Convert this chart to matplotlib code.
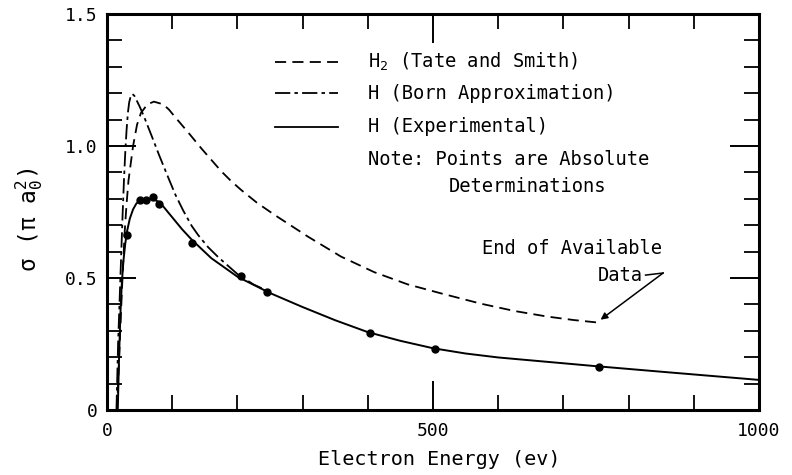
import matplotlib
matplotlib.use("Agg")
import matplotlib.pyplot as plt
from matplotlib.ticker import MultipleLocator, FixedLocator, FixedFormatter

# ---------------- data ----------------
# H2 (Tate and Smith) - dashed
h2_energy = [15.4, 19, 23, 27, 30, 33, 40, 46, 52, 62, 72, 86, 95, 104, 125, 145,
             175, 190, 206, 230, 257, 308, 359, 410, 461, 512, 573, 625, 675, 715, 750]
h2_sigma = [0.0, 0.22, 0.46, 0.67, 0.78, 0.87, 1.0, 1.08, 1.125, 1.158, 1.168,
            1.158, 1.138, 1.111, 1.05, 0.99, 0.905, 0.868, 0.833, 0.785, 0.739,
            0.657, 0.581, 0.522, 0.476, 0.442, 0.403, 0.375, 0.354, 0.341, 0.332]

# H (Born Approximation) - dash-dot
born_energy = [14.5, 17, 20.4, 24, 26, 28, 30, 32, 34, 36.5, 39, 42, 44, 50, 57,
               69, 80, 94, 105, 117, 130, 140, 155, 171, 200, 225, 250]
born_sigma = [0.0, 0.25, 0.49, 0.745, 0.87, 0.975, 1.06, 1.125, 1.165, 1.19,
              1.197, 1.19, 1.18, 1.15, 1.11, 1.035, 0.965, 0.88, 0.815, 0.755,
              0.697, 0.662, 0.617, 0.578, 0.515, 0.475, 0.447]

# H (Experimental) - solid curve
exp_energy = [16.5, 18.5, 20.5, 22.5, 25, 28, 31, 35, 40, 45, 51, 60, 70, 78, 85,
              100, 115, 130, 160, 200, 250, 300, 350, 400, 450, 500, 550, 600,
              700, 750, 850, 1000]
exp_sigma = [0.0, 0.2, 0.36, 0.47, 0.56, 0.63, 0.68, 0.725, 0.76, 0.782, 0.795,
             0.8, 0.8, 0.79, 0.775, 0.73, 0.685, 0.645, 0.575, 0.505, 0.443, 0.39,
             0.34, 0.295, 0.262, 0.234, 0.214, 0.199, 0.177, 0.166, 0.145, 0.114]

# absolute determinations (points)
pts_energy = [30, 50, 60, 70, 80, 130, 205, 245, 403, 503, 754]
pts_sigma = [0.663, 0.795, 0.795, 0.808, 0.780, 0.634, 0.508, 0.448, 0.29, 0.231, 0.162]

legend_labels = ["H$_2$ (Tate and Smith)", "H (Born Approximation)", "H (Experimental)"]
note_lines = ["Note: Points are Absolute", "Determinations"]
x_ticks = [0, 500, 1000]
x_ticklabels = ["0", "500", "1000"]
y_ticks = [0, 0.5, 1.0, 1.5]
y_ticklabels = ["0", "0.5", "1.0", "1.5"]

# ---------------- style ----------------
plt.rcParams['font.family'] = ['DejaVu Sans Mono', 'DejaVu Sans']
plt.rcParams['mathtext.default'] = 'regular'
plt.rcParams['lines.scale_dashes'] = False

W, H = 792, 475
fig = plt.figure(figsize=(W / 100, H / 100), dpi=100)
ax = fig.add_axes([107 / W, 65 / H, 652 / W, 396 / H])

dash_h2 = (8, 4.5)
dash_born = (11, 3, 2.5, 3)

ax.plot(h2_energy, h2_sigma, color='black', lw=1.3, dashes=dash_h2)
ax.plot(born_energy, born_sigma, color='black', lw=1.3, dashes=dash_born)
ax.plot(exp_energy, exp_sigma, color='black', lw=1.4, solid_joinstyle='round')
ax.plot(pts_energy, pts_sigma, 'o', color='black', ms=5)

ax.set_xlim(0, 1000)
ax.set_ylim(0, 1.5)

ax.xaxis.set_major_locator(FixedLocator(x_ticks))
ax.xaxis.set_major_formatter(FixedFormatter(x_ticklabels))
ax.yaxis.set_major_locator(FixedLocator(y_ticks))
ax.yaxis.set_major_formatter(FixedFormatter(y_ticklabels))
ax.xaxis.set_minor_locator(MultipleLocator(100))
ax.yaxis.set_minor_locator(MultipleLocator(0.1))

ax.tick_params(which='both', direction='in', top=True, right=True, color='black')
ax.tick_params(which='major', length=21, width=1.4, labelsize=13)
ax.tick_params(which='minor', length=10.5, width=1.3)
ax.tick_params(axis='x', which='major', pad=9)
ax.tick_params(axis='y', which='major', pad=7)

for sp in ax.spines.values():
    sp.set_linewidth(2.2)

ax.set_xlabel("Electron Energy (ev)", fontsize=14.5)
ax.xaxis.set_label_coords(0.51, -0.1)
ax.set_ylabel(r"$\sigma$ ($\pi$ a$_0^2$)", fontsize=16.5)
ax.yaxis.set_label_coords(-0.095, 0.48)

# legend drawn inside the axes
rows_y = [1.319, 1.2, 1.072]
line_x = [258, 354]
styles = [dict(dashes=dash_h2), dict(dashes=dash_born), dict()]
for yy, lab, st in zip(rows_y, legend_labels, styles):
    ax.plot(line_x, [yy, yy], color='black', lw=1.3, **st)
    ax.text(400, yy, lab, fontsize=13.5, va='center', ha='left')

ax.text(400, 0.947, note_lines[0], fontsize=13.5, va='center', ha='left')
ax.text(645, 0.846, note_lines[1], fontsize=13.5, va='center', ha='center')

# End of available data annotation
ax.text(851, 0.612, "End of Available", fontsize=13.5, va='center', ha='right')
ax.text(822, 0.511, "Data", fontsize=13.5, va='center', ha='right')
ax.plot([826, 853], [0.511, 0.519], color='black', lw=1.1)
ax.annotate("", xy=(757, 0.342), xytext=(853, 0.519),
            arrowprops=dict(arrowstyle='-|>', color='black', lw=1.1,
                            mutation_scale=10, shrinkA=0, shrinkB=0))

fig.savefig("out.png", dpi=100)
